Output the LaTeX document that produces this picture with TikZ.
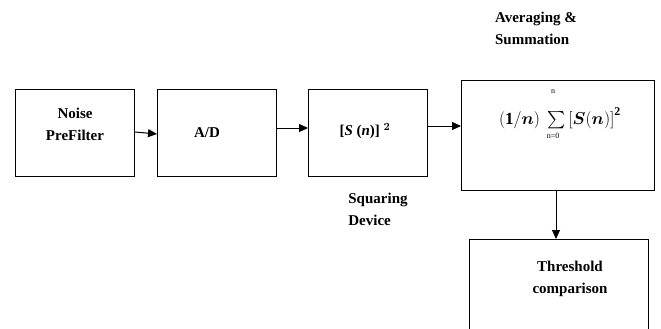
\documentclass[tikz,border=0pt]{standalone}
\usepackage{amsmath}
\usepackage{fontspec}
\setmainfont{Liberation Serif}
\usetikzlibrary{arrows.meta}
\begin{document}
\begin{tikzpicture}[x=1pt,y=-1pt,
  blk/.style={draw,line width=1pt,inner sep=0pt,anchor=north west},
  lbl/.style={font=\fontsize{15}{22}\selectfont\bfseries,align=center,inner sep=0pt},
  lim/.style={font=\fontsize{8}{9}\selectfont,inner sep=0pt},
  arr/.style={line width=1pt,-{Triangle[length=9pt,width=8pt]}}]
\useasboundingbox (0,0) rectangle (661,329);
\node[blk,minimum width=119pt,minimum height=87pt] (b1) at (15,89) {};
\node[blk,minimum width=119pt,minimum height=87pt] (b2) at (157,89) {};
\node[blk,minimum width=119pt,minimum height=87pt] (b3) at (308,89) {};
\node[blk,minimum width=193pt,minimum height=110pt] (b4) at (461,80) {};
\draw[line width=1pt] (469,335) |- (648,239) -- (648,335);
\coordinate (b5top) at (556,239);
\node[lbl] (t1) at (75,124) {Noise\\PreFilter};
\node[lbl] (t2) at (207,133) {A/D};
\node[lbl] (t3) at (365,131) {[\textit{S} (\textit{n})] $^{\boldsymbol{2}}$};
\node[lbl,align=left] (t3b) at (378,209) {Squaring\\Device};
\node[lbl,align=left] (t4b) at (536,28) {Averaging \&\\Summation};
\node[inner sep=0pt] (t4) at (560,118) {\fontsize{17}{20}\selectfont$(\mathbf{1}/\boldsymbol{n})\ \textstyle\sum\,[\boldsymbol{S}(\boldsymbol{n})]^{\raisebox{3pt}{$\scriptstyle\mathbf{2}$}}$};
\node[lim] (up) at (553,92) {n};
\node[lim] (lo) at (553,136) {n=0};
\node[lbl] (t5) at (570,279) {Threshold\\comparison};
\draw[arr] (b1.east |- 0,132) -- (b2.west |- 0,134);
\draw[arr] (b2.east |- 0,128) -- (b3.west |- 0,128);
\draw[arr] (b3.east |- 0,126) -- (b4.west |- 0,126);
\draw[arr] (b4.south -| b5top) -- (b5top);
\end{tikzpicture}
\end{document}
